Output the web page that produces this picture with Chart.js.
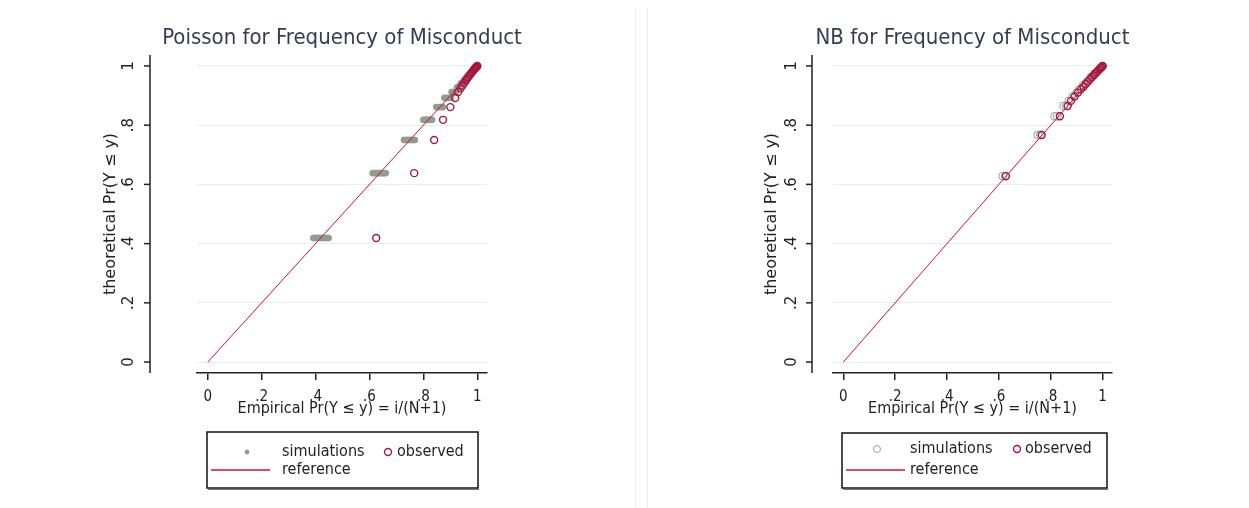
<!DOCTYPE html>
<html>
<head>
<meta charset="utf-8">
<script src="https://cdn.jsdelivr.net/npm/chart.js@4"></script>
<style>
  html, body { margin: 0; padding: 0; background: #fff; width: 1249px; height: 508px; overflow: hidden; }
  .panel { position: absolute; top: 0; height: 508px; }
  #p1 { left: 0; width: 634px; }
  #p2 { left: 648px; width: 601px; }
  .sep { position: absolute; top: 8px; bottom: 0; width: 1px; background: #e9edee; }
</style>
</head>
<body>
<div class="sep" style="left:635px"></div>
<div class="sep" style="left:647px"></div>
<div class="panel" id="p1"><canvas id="chart1"></canvas></div>
<div class="panel" id="p2"><canvas id="chart2"></canvas></div>
<script>
// DATOS
const tickValues = [0, 0.2, 0.4, 0.6, 0.8, 1];
const tickLabels = ['0', '.2', '.4', '.6', '.8', '1'];
const refX = [0, 1];
const refY = [0, 1];

// Poisson - observados
const poisObsX = [0.625, 0.766, 0.840, 0.873, 0.900, 0.918, 0.929, 0.938, 0.945, 0.951, 0.957, 0.962, 0.967, 0.972, 0.976, 0.980, 0.984, 0.987, 0.990, 0.993, 0.995, 0.997, 0.999, 1.0];
const poisObsY = [0.419, 0.638, 0.750, 0.818, 0.861, 0.892, 0.912, 0.925, 0.934, 0.942, 0.950, 0.957, 0.963, 0.969, 0.974, 0.979, 0.983, 0.987, 0.990, 0.993, 0.995, 0.997, 0.999, 1.0];
// Poisson - simulaciones
const poisSimX = [0.392, 0.400, 0.408, 0.416, 0.424, 0.432, 0.440, 0.448,
                  0.612, 0.620, 0.628, 0.636, 0.644, 0.652, 0.660,
                  0.728, 0.736, 0.744, 0.752, 0.760, 0.768,
                  0.800, 0.808, 0.816, 0.824, 0.832,
                  0.848, 0.856, 0.864, 0.872,
                  0.878, 0.886, 0.894, 0.902,
                  0.905, 0.913, 0.921, 0.925, 0.933, 0.938, 0.946, 0.950, 0.958,
                  0.960, 0.966, 0.968, 0.974, 0.977, 0.985, 0.991, 0.996];
const poisSimY = [0.419, 0.419, 0.419, 0.419, 0.419, 0.419, 0.419, 0.419,
                  0.638, 0.638, 0.638, 0.638, 0.638, 0.638, 0.638,
                  0.750, 0.750, 0.750, 0.750, 0.750, 0.750,
                  0.818, 0.818, 0.818, 0.818, 0.818,
                  0.861, 0.861, 0.861, 0.861,
                  0.892, 0.892, 0.892, 0.892,
                  0.912, 0.912, 0.912, 0.928, 0.928, 0.941, 0.941, 0.952, 0.952,
                  0.962, 0.962, 0.970, 0.970, 0.978, 0.985, 0.991, 0.996];

// NB - observados
const nbObsX = [0.627, 0.765, 0.835, 0.865, 0.878, 0.892, 0.905, 0.916, 0.926, 0.935, 0.943, 0.951, 0.958, 0.965, 0.971, 0.977, 0.982, 0.987, 0.991, 0.995, 0.998, 1.0];
const nbObsY = [0.628, 0.767, 0.830, 0.865, 0.882, 0.897, 0.910, 0.921, 0.930, 0.939, 0.947, 0.955, 0.962, 0.968, 0.974, 0.979, 0.984, 0.988, 0.992, 0.995, 0.998, 1.0];
// NB - simulaciones
const nbSimX = [0.615, 0.625, 0.750, 0.760, 0.815, 0.825, 0.850, 0.860, 0.870, 0.885, 0.900, 0.910, 0.925, 0.940, 0.955, 0.970];
const nbSimY = [0.628, 0.628, 0.767, 0.767, 0.830, 0.830, 0.865, 0.865, 0.882, 0.897, 0.910, 0.921, 0.935, 0.947, 0.962, 0.974];

const pts = (xs, ys) => xs.map((x, i) => ({ x: x, y: ys[i] }));

const narrow = "'DejaVu Sans Condensed', 'Liberation Sans Narrow', 'Liberation Sans', sans-serif";
const normal = "'DejaVu Sans', 'Liberation Sans', sans-serif";

function drawMarker(ctx, ds, x, y) {
  ctx.beginPath();
  ctx.arc(x, y, ds.legendRadius || ds.pointRadius, 0, Math.PI * 2);
  if (ds.backgroundColor && ds.backgroundColor !== 'transparent') {
    ctx.fillStyle = ds.backgroundColor;
    ctx.fill();
  }
  ctx.lineWidth = ds.borderWidth;
  ctx.strokeStyle = ds.borderColor;
  ctx.stroke();
}

// titulo, eje y separado + leyenda tipo Stata
const stataPlugin = {
  id: 'stata',
  afterDraw(chart, args, opts) {
    const { ctx, chartArea } = chart;
    const ys = chart.scales.y;
    const ax = chartArea.left - opts.yGap;
    ctx.save();

    // titulo centrado sobre el area del grafico
    ctx.font = '22px ' + narrow;
    ctx.fillStyle = '#343d55';
    ctx.textAlign = 'center';
    ctx.textBaseline = 'middle';
    ctx.fillText(opts.title, (chartArea.left + chartArea.right) / 2, 38);

    ctx.strokeStyle = '#222';
    ctx.lineWidth = 1.5;
    ctx.beginPath();
    ctx.moveTo(ax, chartArea.top);
    ctx.lineTo(ax, chartArea.bottom);
    ctx.stroke();
    ys.ticks.forEach(t => {
      const py = ys.getPixelForValue(t.value);
      ctx.beginPath();
      ctx.moveTo(ax - 6, py);
      ctx.lineTo(ax, py);
      ctx.stroke();
    });

    // leyenda
    const lg = opts.legend;
    const bx = chartArea.left + lg.dx;
    const by = chartArea.bottom + lg.dy;
    ctx.fillStyle = '#fff';
    ctx.fillRect(bx, by, lg.w, lg.h);
    ctx.strokeStyle = '#111';
    ctx.lineWidth = 1.5;
    ctx.strokeRect(bx, by, lg.w, lg.h);
    ctx.lineWidth = 1;
    ctx.strokeStyle = '#777';
    ctx.beginPath();
    ctx.moveTo(bx + 1, by + lg.h + 1.5);
    ctx.lineTo(bx + lg.w + 1, by + lg.h + 1.5);
    ctx.stroke();

    const [sim, obs, ref] = chart.data.datasets;
    ctx.font = '16px ' + narrow;
    ctx.textBaseline = 'middle';
    ctx.textAlign = 'left';
    const r1 = by + lg.row1, r2 = by + lg.row2;
    drawMarker(ctx, sim, bx + lg.m1, r1);
    ctx.fillStyle = '#222';
    ctx.fillText(sim.label, bx + lg.t1, r1);
    drawMarker(ctx, obs, bx + lg.m2, r1);
    ctx.fillStyle = '#222';
    ctx.fillText(obs.label, bx + lg.t2, r1);
    ctx.strokeStyle = ref.borderColor;
    ctx.lineWidth = 1.5;
    ctx.beginPath();
    ctx.moveTo(bx + 4, r2);
    ctx.lineTo(bx + 63, r2);
    ctx.stroke();
    ctx.fillText(ref.label, bx + lg.t1, r2);
    ctx.restore();
  }
};

function crearGrafico(id, titulo, simX, simY, simStyle, obsX, obsY, lay) {
  const ctx = document.getElementById(id).getContext('2d');
  return new Chart(ctx, {
    type: 'scatter',
    data: {
      datasets: [{
        label: 'simulations',
        data: pts(simX, simY),
        pointRadius: simStyle.radius,
        legendRadius: simStyle.legendRadius,
        backgroundColor: simStyle.fill,
        borderColor: simStyle.border,
        borderWidth: 1,
        order: 2
      }, {
        label: 'observed',
        data: pts(obsX, obsY),
        pointRadius: 3.5,
        backgroundColor: 'transparent',
        borderColor: '#a3183f',
        borderWidth: 1.4,
        order: 1
      }, {
        label: 'reference',
        type: 'line',
        data: pts(refX, refY),
        borderColor: '#cc1133',
        borderWidth: 1,
        pointRadius: 0,
        fill: false,
        order: 0
      }]
    },
    options: {
      responsive: true,
      maintainAspectRatio: false,
      animation: false,
      layout: { padding: { left: 0, right: lay.padRight, top: 55, bottom: 90 } },
      plugins: {
        legend: { display: false },
        tooltip: { enabled: false },
        title: { display: false },
        stata: { title: titulo, yGap: lay.yGap, legend: lay.legend }
      },
      scales: {
        x: {
          type: 'linear',
          min: -0.04,
          max: 1.036,
          afterBuildTicks: s => { s.ticks = tickValues.map(v => ({ value: v })); },
          afterFit: s => { s.height = 45; },
          ticks: {
            callback: (v, i) => tickLabels[i],
            color: '#222',
            padding: 8,
            font: { family: narrow, size: 15 }
          },
          grid: { drawOnChartArea: false, drawTicks: true, tickLength: 7, color: '#222', lineWidth: 1.5 },
          border: { display: true, color: '#222', width: 1.5 },
          title: {
            display: true,
            text: 'Empirical Pr(Y \u2264 y) = i/(N+1)',
            color: '#222',
            font: { family: narrow, size: 16 },
            padding: { top: 0, bottom: 0 }
          }
        },
        y: {
          type: 'linear',
          min: -0.037,
          max: 1.037,
          afterBuildTicks: s => { s.ticks = tickValues.map(v => ({ value: v })); },
          afterFit: s => { s.width = lay.yWidth; s.paddingTop = 0; s.paddingBottom = 0; },
          ticks: {
            callback: (v, i) => tickLabels[i],
            color: '#222',
            minRotation: 90,
            maxRotation: 90,
            crossAlign: 'center',
            padding: lay.tickPad,
            font: { family: normal, size: 15 }
          },
          grid: { drawOnChartArea: true, drawTicks: false, color: '#e8ecef', lineWidth: 1 },
          border: { display: false },
          title: {
            display: true,
            text: 'theoretical Pr(Y \u2264 y)',
            color: '#222',
            font: { family: normal, size: 16 },
            padding: { top: lay.titlePad, bottom: 0 }
          }
        }
      }
    },
    plugins: [stataPlugin]
  });
}

crearGrafico('chart1', 'Poisson for Frequency of Misconduct',
  poisSimX, poisSimY, { radius: 3, legendRadius: 2, fill: '#8f9c8f', border: '#8f9c8f' },
  poisObsX, poisObsY,
  { padRight: 147, yWidth: 197, yGap: 47, tickPad: 61, titlePad: 101,
    legend: { dx: 10, dy: 59, w: 271, h: 56, row1: 20, row2: 38, m1: 40, t1: 75, m2: 181, t2: 190 } });

crearGrafico('chart2', 'NB for Frequency of Misconduct',
  nbSimX, nbSimY, { radius: 4, legendRadius: 3.5, fill: 'transparent', border: '#9aa09a' },
  nbObsX, nbObsY,
  { padRight: 137, yWidth: 185, yGap: 21, tickPad: 34, titlePad: 114,
    legend: { dx: 9, dy: 60, w: 265, h: 55, row1: 16, row2: 37, m1: 35, t1: 68, m2: 175, t2: 183 } });
</script>
</body>
</html>
